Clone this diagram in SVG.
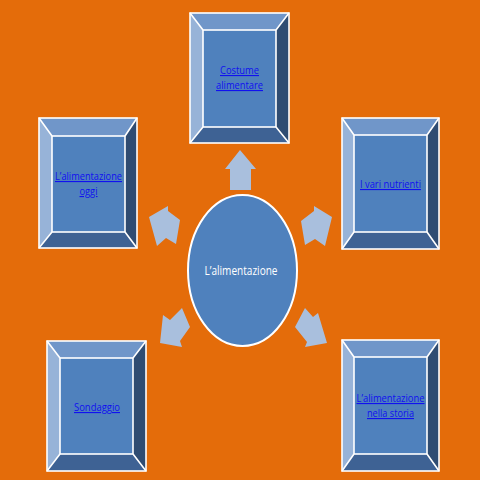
<svg xmlns="http://www.w3.org/2000/svg" width="480" height="480" viewBox="0 0 480 480">
<style>
.top{fill:#7096c9}
.lft{fill:#97b3d8}
.rgt{fill:#2f4c72}
.bot{fill:#3e6294}
.face{fill:#4f81bd}
.edge{fill:none;stroke:#ffffff;stroke-width:1.6;stroke-linejoin:miter}
.arr{fill:#a9bfdd}
.lnk{font-family:"Open Sans","Liberation Sans",sans-serif;font-size:11px;fill:#1010f0;text-decoration:underline;text-anchor:middle}
.ctr{font-family:"Open Sans","Liberation Sans",sans-serif;font-size:13px;fill:#ffffff;text-anchor:middle}
</style>
<rect x="0" y="0" width="480" height="480" fill="#e46c0a"/>

<g id="connectors">
<polygon class="arr" points="240,150 256,169 251,169 251,190 230,190 230,169 225,169"/>
<polygon class="arr" points="149,217 168,206 168,211 180,220 176,244 166,238 157,246"/>
<polygon class="arr" points="332,217 314,206 314,211 301,221 305,245 315,239 325,246"/>
<polygon class="arr" points="182,308 190,327 180,341 182,347 160,343 163,315 170,320"/>
<polygon class="arr" points="305,308 313,317 318,313 327,343 305,347 307,342 295,327"/>
</g>

<g id="center">
<ellipse cx="242.5" cy="270.5" rx="54.5" ry="75.5" fill="#4f81bd" stroke="#ffffff" stroke-width="2"/>
<text class="ctr" x="241" y="275" textLength="73" lengthAdjust="spacingAndGlyphs">L’alimentazione</text>
</g>

<g id="node-costume">
<polygon class="top" points="190,13 289,13 276,30 203,30"/>
<polygon class="lft" points="190,13 203,30 203,127 190,143"/>
<polygon class="rgt" points="289,13 289,143 276,127 276,30"/>
<polygon class="bot" points="190,143 203,127 276,127 289,143"/>
<rect class="face" x="203" y="30" width="73" height="97"/>
<rect class="edge" x="190" y="13" width="99" height="130"/>
<rect class="edge" x="203" y="30" width="73" height="97"/>
<path class="edge" d="M190,13L203,30M289,13L276,30M190,143L203,127M289,143L276,127"/>
<text class="lnk" x="239.5" y="74" textLength="39" lengthAdjust="spacingAndGlyphs">Costume</text>
<text class="lnk" x="239.5" y="89" textLength="47" lengthAdjust="spacingAndGlyphs">alimentare</text>
</g>

<g id="node-oggi">
<polygon class="top" points="39,118 137,118 125,136 52,136"/>
<polygon class="lft" points="39,118 52,136 52,232 39,248"/>
<polygon class="rgt" points="137,118 137,248 125,232 125,136"/>
<polygon class="bot" points="39,248 52,232 125,232 137,248"/>
<rect class="face" x="52" y="136" width="73" height="96"/>
<rect class="edge" x="39" y="118" width="98" height="130"/>
<rect class="edge" x="52" y="136" width="73" height="96"/>
<path class="edge" d="M39,118L52,136M137,118L125,136M39,248L52,232M137,248L125,232"/>
<text class="lnk" x="88.5" y="180" textLength="67" lengthAdjust="spacingAndGlyphs">L’alimentazione</text>
<text class="lnk" x="88.5" y="195" textLength="18" lengthAdjust="spacingAndGlyphs">oggi</text>
</g>

<g id="node-nutrienti">
<polygon class="top" points="342,118 439,118 427,135 354,135"/>
<polygon class="lft" points="342,118 354,135 354,232 342,249"/>
<polygon class="rgt" points="439,118 439,249 427,232 427,135"/>
<polygon class="bot" points="342,249 354,232 427,232 439,249"/>
<rect class="face" x="354" y="135" width="73" height="97"/>
<rect class="edge" x="342" y="118" width="97" height="131"/>
<rect class="edge" x="354" y="135" width="73" height="97"/>
<path class="edge" d="M342,118L354,135M439,118L427,135M342,249L354,232M439,249L427,232"/>
<text class="lnk" x="390.5" y="188" textLength="61" lengthAdjust="spacingAndGlyphs">I vari nutrienti</text>
</g>

<g id="node-sondaggio">
<polygon class="top" points="47,341 146,341 133,358 60,358"/>
<polygon class="lft" points="47,341 60,358 60,454 47,471"/>
<polygon class="rgt" points="146,341 146,471 133,454 133,358"/>
<polygon class="bot" points="47,471 60,454 133,454 146,471"/>
<rect class="face" x="60" y="358" width="73" height="96"/>
<rect class="edge" x="47" y="341" width="99" height="130"/>
<rect class="edge" x="60" y="358" width="73" height="96"/>
<path class="edge" d="M47,341L60,358M146,341L133,358M47,471L60,454M146,471L133,454"/>
<text class="lnk" x="97" y="411" textLength="46" lengthAdjust="spacingAndGlyphs">Sondaggio</text>
</g>

<g id="node-storia">
<polygon class="top" points="342,340 439,340 427,357 354,357"/>
<polygon class="lft" points="342,340 354,357 354,454 342,471"/>
<polygon class="rgt" points="439,340 439,471 427,454 427,357"/>
<polygon class="bot" points="342,471 354,454 427,454 439,471"/>
<rect class="face" x="354" y="357" width="73" height="97"/>
<rect class="edge" x="342" y="340" width="97" height="131"/>
<rect class="edge" x="354" y="357" width="73" height="97"/>
<path class="edge" d="M342,340L354,357M439,340L427,357M342,471L354,454M439,471L427,454"/>
<text class="lnk" x="390.5" y="402" textLength="68" lengthAdjust="spacingAndGlyphs">L’alimentazione</text>
<text class="lnk" x="390.5" y="417" textLength="47" lengthAdjust="spacingAndGlyphs">nella storia</text>
</g>
</svg>
